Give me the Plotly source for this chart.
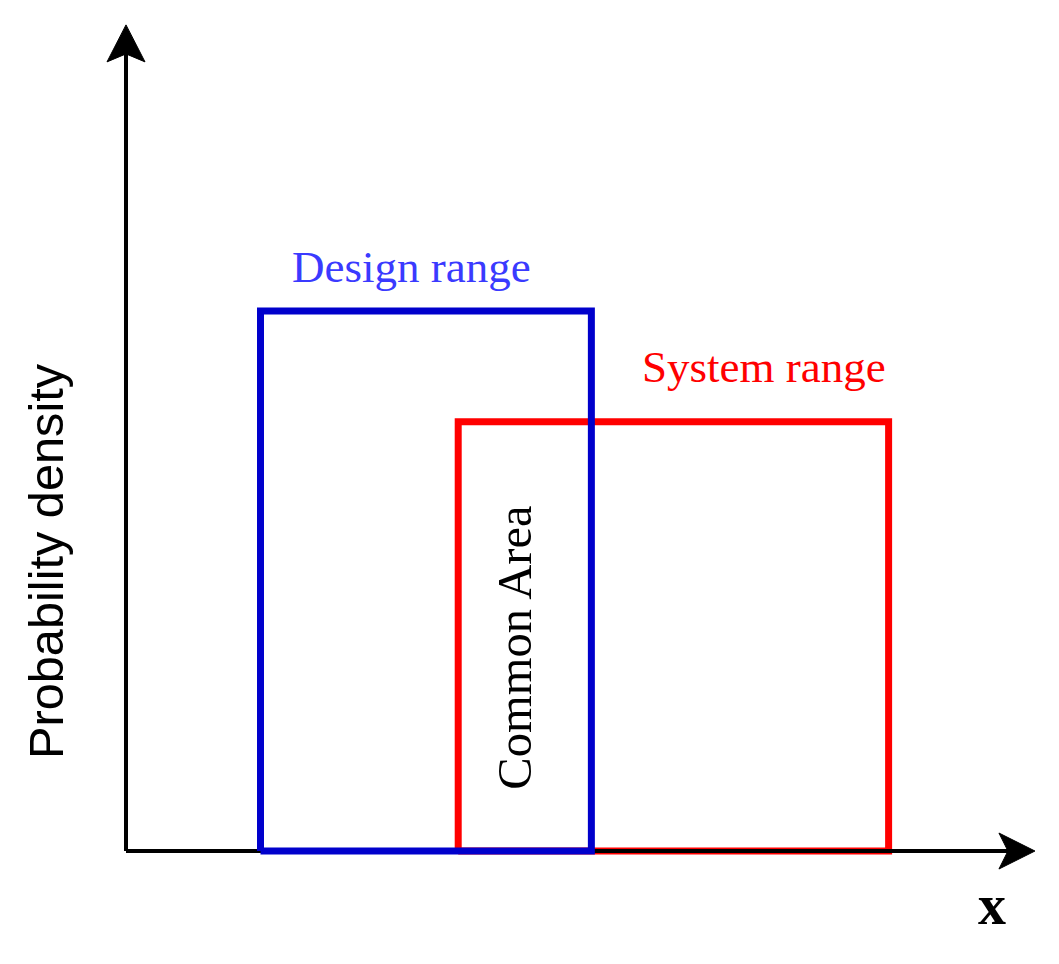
import plotly.graph_objects as go

# ---- data (uniform probability densities) ----
range_names = ["Design range", "System range"]
range_low = [1.0, 2.47]
range_high = [3.46, 5.67]
range_density = [0.40, 0.318]
line_colors = ["#0000CC", "#FF0000"]
label_colors = ["#3a3aff", "#FF0000"]

# axis extents (data units); page body has an 8px margin, ranges compensate
X_MIN, X_MAX = -0.8773, 6.9963
Y_MIN, Y_MAX = -0.0896, 0.6244
X_AXIS_END = 6.758   # arrow tip on x axis
Y_AXIS_END = 0.6119  # arrow tip on y axis

fig = go.Figure()


def add_range(i):
    x0, x1, h = range_low[i], range_high[i], range_density[i]
    fig.add_trace(go.Scatter(
        x=[x0, x0, x1, x1, x0],
        y=[0, h, h, 0, 0],
        mode="lines",
        line=dict(color=line_colors[i], width=7),
        hoverinfo="skip",
        showlegend=False,
    ))


# system range first, then the axes, design range on top
add_range(1)
fig.add_trace(go.Scatter(
    x=[0, X_AXIS_END - 0.2, None, 0, 0],
    y=[0, 0, None, 0, Y_AXIS_END - 0.02],
    mode="lines", line=dict(color="black", width=4),
    hoverinfo="skip", showlegend=False,
))
add_range(0)

shapes = [
    dict(type="path", xref="x", yref="y", xsizemode="pixel", ysizemode="pixel",
         xanchor=0, yanchor=Y_AXIS_END,
         path="M 0,0 L -19,-37 L 0,-29 L 19,-37 Z",
         fillcolor="black", line=dict(color="black", width=1)),
    dict(type="path", xref="x", yref="y", xsizemode="pixel", ysizemode="pixel",
         xanchor=X_AXIS_END, yanchor=0,
         path="M 0,0 L -36,18 L -27,0 L -36,-18 Z",
         fillcolor="black", line=dict(color="black", width=1)),
]

serif = "Liberation Serif, Times New Roman, serif"
annotations = [
    dict(x=2.126, y=0.4326, text=range_names[0], showarrow=False,
         font=dict(family=serif, size=45, color=label_colors[0])),
    dict(x=4.743, y=0.3585, text=range_names[1], showarrow=False,
         font=dict(family=serif, size=45, color=label_colors[1])),
    dict(x=2.89, y=0.1504, text="Common Area", showarrow=False, textangle=-90,
         font=dict(family=serif, size=48.5, color="black")),
    dict(x=-0.595, y=0.2148, text="Probability density", showarrow=False, textangle=-90,
         font=dict(family="Liberation Sans, Arial, sans-serif", size=48.7, color="black")),
    dict(x=6.439, y=-0.040, text="<b>x</b>", showarrow=False,
         font=dict(family=serif, size=56, color="black")),
]

fig.update_layout(
    width=1059, height=964,
    margin=dict(l=0, r=0, t=0, b=0),
    paper_bgcolor="white", plot_bgcolor="white",
    xaxis=dict(range=[X_MIN, X_MAX], visible=False, fixedrange=True),
    yaxis=dict(range=[Y_MIN, Y_MAX], visible=False, fixedrange=True),
    shapes=shapes,
    annotations=annotations,
)

fig.write_html("out.html", config={"displayModeBar": False})
